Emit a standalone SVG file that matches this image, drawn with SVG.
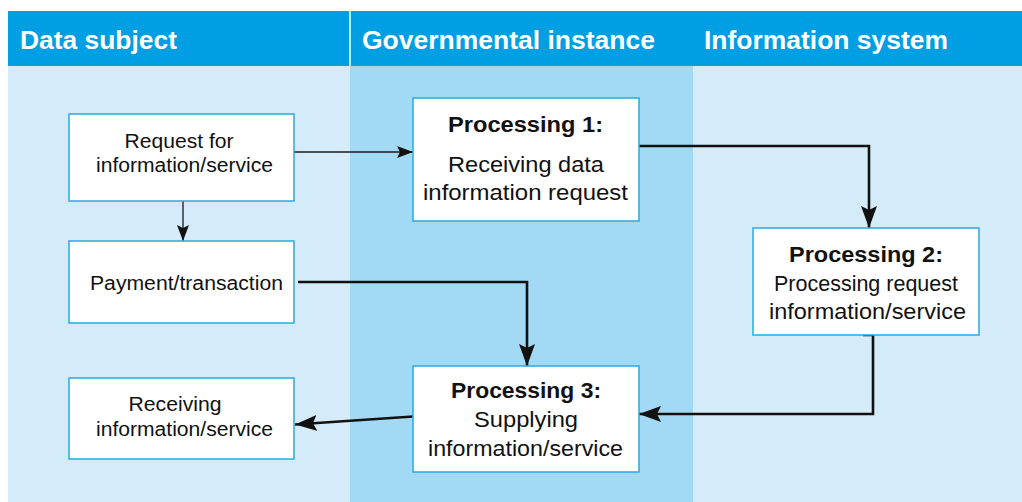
<svg xmlns="http://www.w3.org/2000/svg" width="1022" height="502" viewBox="0 0 1022 502">
<style>
.hdr{font-family:"Liberation Sans",Arial,sans-serif;font-weight:bold;font-size:25px;fill:#fff}
.box{fill:#fff;stroke:#29abe2;stroke-width:1.5}
.t{font-family:"Liberation Sans",Arial,sans-serif;font-size:20px;fill:#111;text-anchor:middle}
.p{font-family:"Liberation Sans",Arial,sans-serif;font-size:22px;fill:#111;text-anchor:middle}
.pb{font-weight:bold}
.thin{fill:none;stroke:#1a1a1a;stroke-width:1.3;marker-end:url(#aThin)}
.thick{fill:none;stroke:#111;stroke-width:2.6;marker-end:url(#aThick)}
</style>
<defs>
<marker id="aThin" markerUnits="userSpaceOnUse" viewBox="0 0 16 12" markerWidth="16" markerHeight="12" refX="16" refY="6" orient="auto">
<path d="M0,0 L16,6 L0,12 L3,6 z" fill="#111"/>
</marker>
<marker id="aThick" markerUnits="userSpaceOnUse" viewBox="0 0 22 16" markerWidth="22" markerHeight="16" refX="22" refY="8" orient="auto">
<path d="M0,0 L22,8 L0,16 L4,8 z" fill="#111"/>
</marker>
</defs>
<rect x="0" y="0" width="1022" height="502" fill="#fff"/>
<g id="lanes">
<rect x="8" y="66" width="342" height="436" fill="#d4ebfa"/>
<rect x="350" y="66" width="343" height="436" fill="#a2daf5"/>
<rect x="693" y="66" width="329" height="436" fill="#d4ebfa"/>
<rect x="8" y="11" width="1014" height="55" fill="#009fe3"/>
<line x1="350" y1="11" x2="350" y2="66" stroke="#fff" stroke-width="1.5"/>
<text class="hdr" x="20" y="49" textLength="157" lengthAdjust="spacingAndGlyphs">Data subject</text>
<text class="hdr" x="362" y="49" textLength="293" lengthAdjust="spacingAndGlyphs">Governmental instance</text>
<text class="hdr" x="704" y="49" textLength="244" lengthAdjust="spacingAndGlyphs">Information system</text>
</g>
<g id="connectors">
<path class="thin" d="M294,152 L413,152"/>
<path class="thin" d="M183,201 L183,241"/>
<path class="thick" d="M639,146 L869,146 L869,228"/>
<path class="thick" d="M298,282 L527,282 L527,366"/>
<path class="thick" d="M863,335 L873,335 L873,414 L639,414"/>
<path class="thick" d="M413,416.5 L295,424.5"/>
</g>
<g id="request">
<rect class="box" x="69" y="114" width="225" height="87"/>
<text class="t" x="179" y="148" textLength="109" lengthAdjust="spacingAndGlyphs">Request for</text>
<text class="t" x="184.5" y="172" textLength="177" lengthAdjust="spacingAndGlyphs">information/service</text>
</g>
<g id="payment">
<rect class="box" x="69" y="241" width="225" height="82"/>
<text class="t" x="186.5" y="290" textLength="193" lengthAdjust="spacingAndGlyphs">Payment/transaction</text>
</g>
<g id="receiving">
<rect class="box" x="69" y="378" width="225" height="81"/>
<text class="t" x="175" y="411" textLength="93" lengthAdjust="spacingAndGlyphs">Receiving</text>
<text class="t" x="184.5" y="436" textLength="177" lengthAdjust="spacingAndGlyphs">information/service</text>
</g>
<g id="processing1">
<rect class="box" x="413" y="98" width="226" height="123"/>
<text class="p pb" x="525.5" y="132" textLength="155" lengthAdjust="spacingAndGlyphs">Processing 1:</text>
<text class="p" x="526" y="172" textLength="156" lengthAdjust="spacingAndGlyphs">Receiving data</text>
<text class="p" x="525.5" y="200" textLength="205" lengthAdjust="spacingAndGlyphs">information request</text>
</g>
<g id="processing2">
<rect class="box" x="753" y="228" width="226" height="107"/>
<text class="p pb" x="866" y="262" textLength="154" lengthAdjust="spacingAndGlyphs">Processing 2:</text>
<text class="p" x="866" y="291" textLength="184" lengthAdjust="spacingAndGlyphs">Processing request</text>
<text class="p" x="867.5" y="319" textLength="197" lengthAdjust="spacingAndGlyphs">information/service</text>
</g>
<g id="processing3">
<rect class="box" x="413" y="366" width="226" height="106"/>
<text class="p pb" x="526" y="398" textLength="150" lengthAdjust="spacingAndGlyphs">Processing 3:</text>
<text class="p" x="526" y="427" textLength="104" lengthAdjust="spacingAndGlyphs">Supplying</text>
<text class="p" x="525.5" y="456" textLength="195" lengthAdjust="spacingAndGlyphs">information/service</text>
</g>
</svg>
